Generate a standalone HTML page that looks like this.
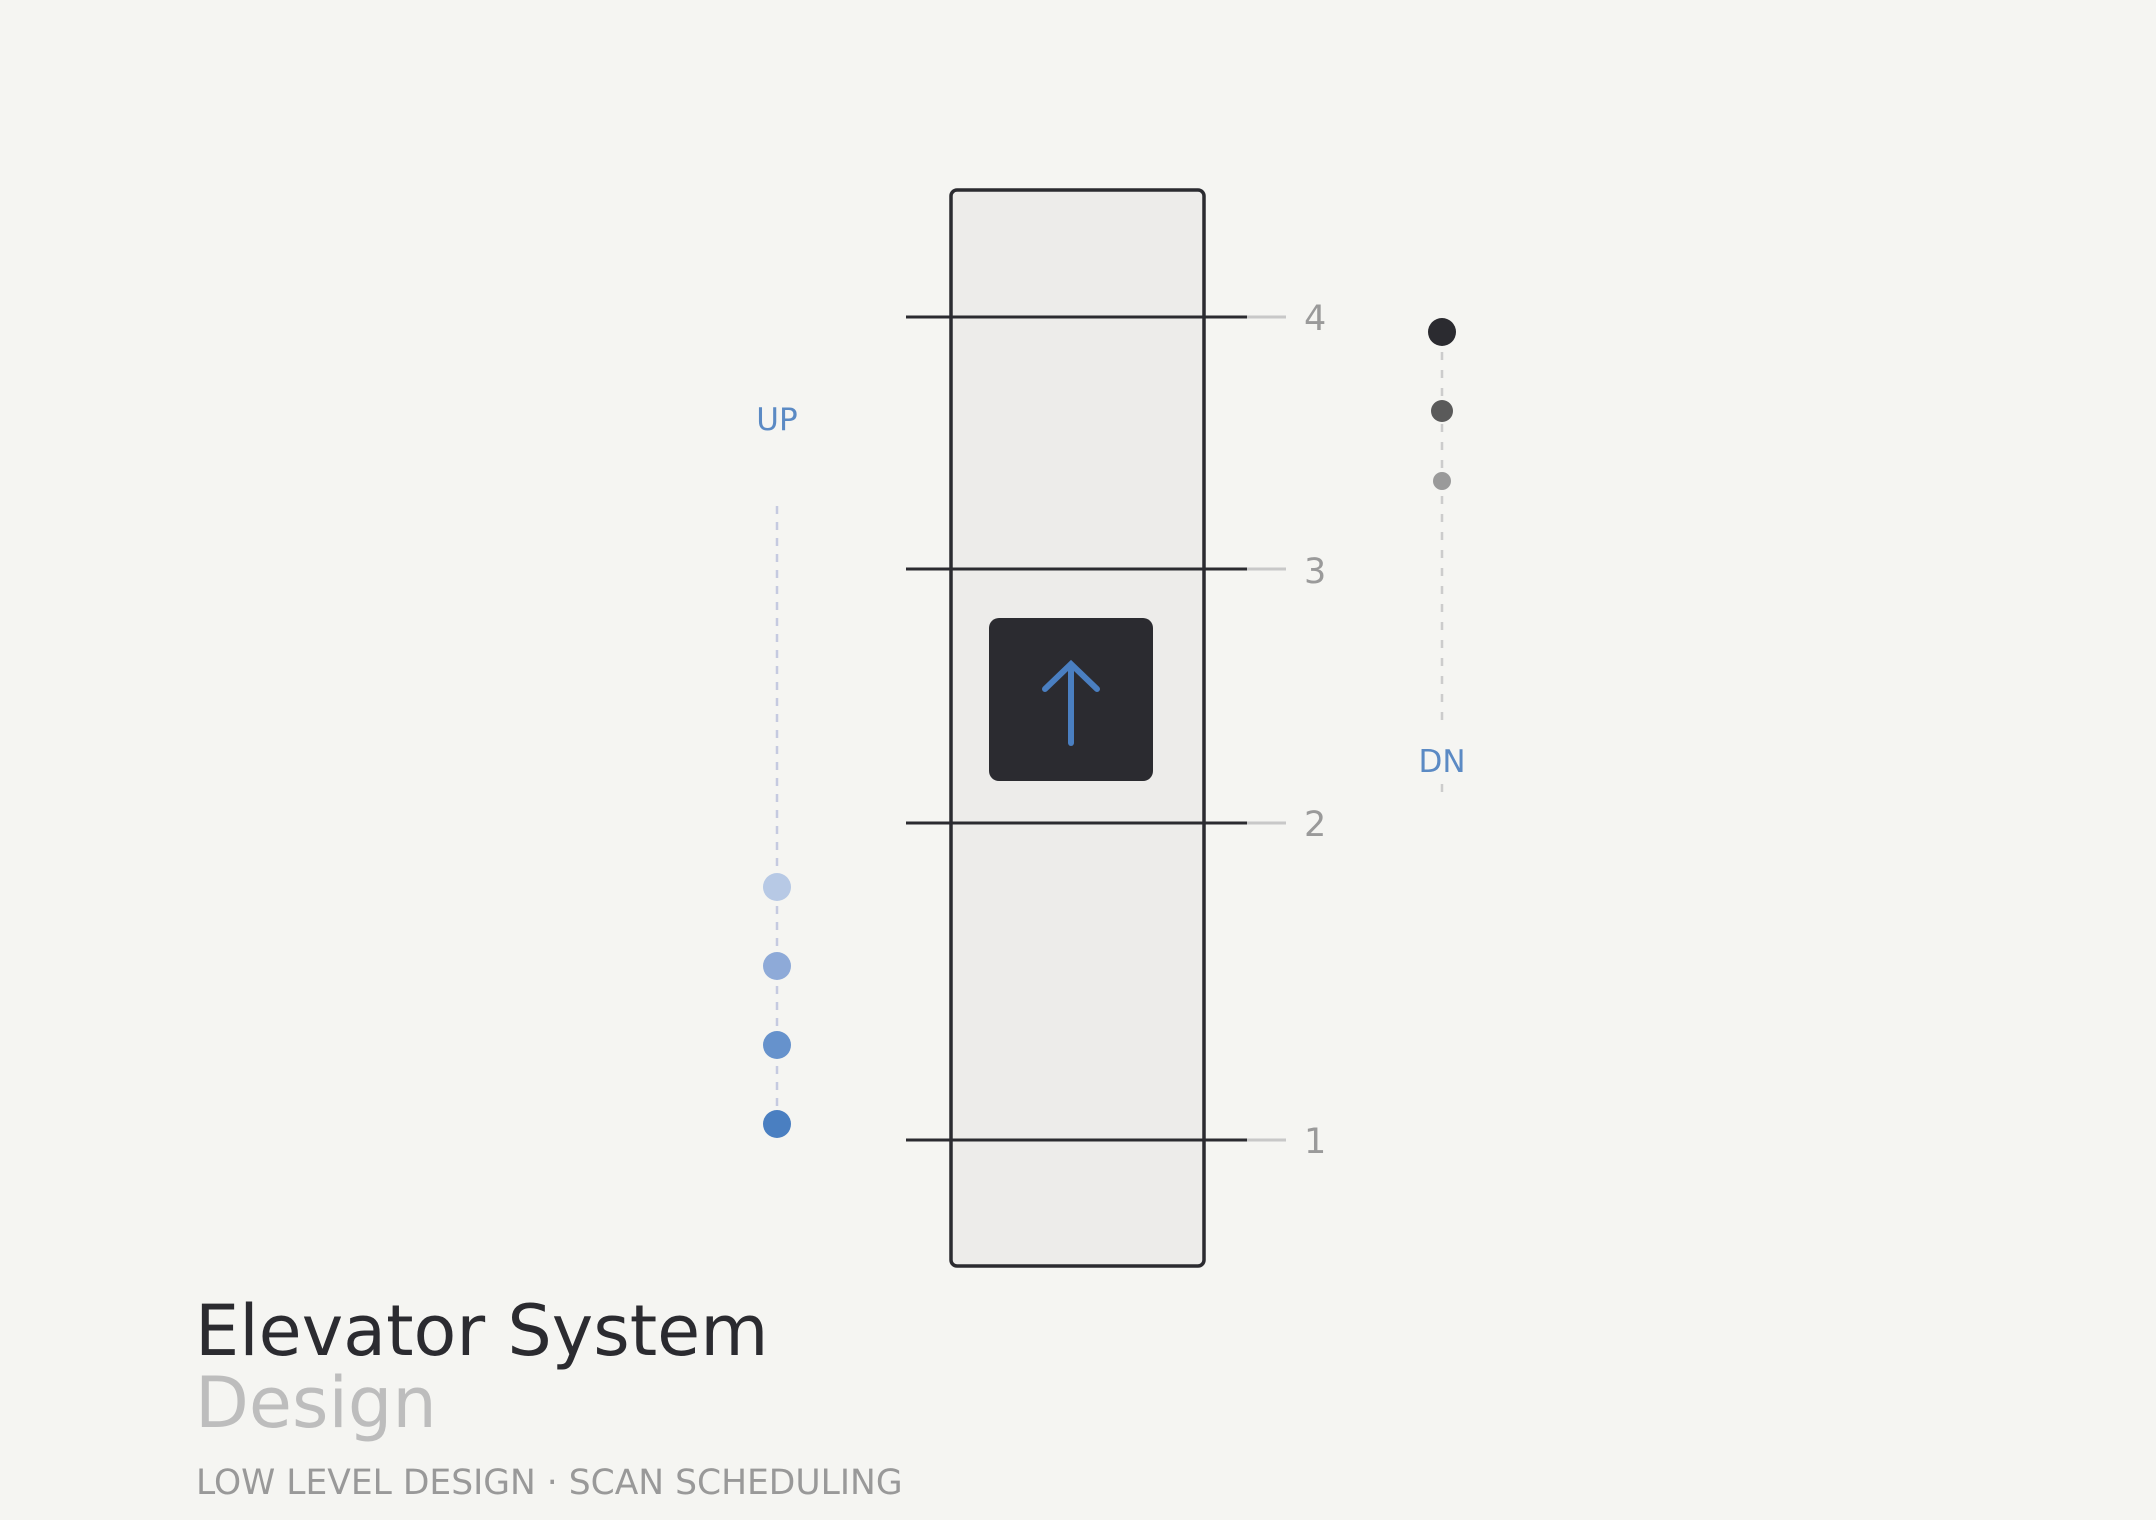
<!DOCTYPE html>
<html><head><style>
html,body{margin:0;padding:0;background:#fff;}
svg{display:block;}
</style></head><body>
<svg width="2156" height="1531" viewBox="0 0 2156 1531" xmlns="http://www.w3.org/2000/svg" font-family="DejaVu Sans, Liberation Sans, sans-serif">
<rect x="0" y="0" width="2156" height="1520" fill="#f5f5f2"/>
<rect x="951" y="190" width="253" height="1076" rx="6" fill="#edecea" stroke="#2b2b30" stroke-width="3.5"/>
<g stroke-width="3">
<line x1="906" y1="317" x2="1247" y2="317" stroke="#2b2b30"/>
<line x1="1247" y1="317" x2="1286" y2="317" stroke="#c8c8c8"/>
<line x1="906" y1="569" x2="1247" y2="569" stroke="#2b2b30"/>
<line x1="1247" y1="569" x2="1286" y2="569" stroke="#c8c8c8"/>
<line x1="906" y1="823" x2="1247" y2="823" stroke="#2b2b30"/>
<line x1="1247" y1="823" x2="1286" y2="823" stroke="#c8c8c8"/>
<line x1="906" y1="1140" x2="1247" y2="1140" stroke="#2b2b30"/>
<line x1="1247" y1="1140" x2="1286" y2="1140" stroke="#c8c8c8"/>
</g>
<g fill="#9a9a9a" font-size="35">
<text x="1304" y="330">4</text>
<text x="1304" y="583">3</text>
<text x="1304" y="836">2</text>
<text x="1304" y="1153">1</text>
</g>
<rect x="989" y="618" width="164" height="163" rx="10" fill="#2b2b30"/>
<g stroke="#4a7fc1" stroke-width="6" stroke-linecap="round" fill="none">
<line x1="1071" y1="665" x2="1071" y2="743"/>
<polyline points="1045,689 1071,664 1097,689"/>
</g>
<text x="777" y="430" font-size="31" fill="#5b8ac4" text-anchor="middle">UP</text>
<line x1="777" y1="506" x2="777" y2="1116" stroke="#c5cae0" stroke-width="2.5" stroke-dasharray="8,8"/>
<circle cx="777" cy="887" r="14" fill="#b7c9e5"/>
<circle cx="777" cy="966" r="14" fill="#8eaad8"/>
<circle cx="777" cy="1045" r="14" fill="#6692cc"/>
<circle cx="777" cy="1124" r="14" fill="#4a7fc1"/>
<line x1="1442" y1="352" x2="1442" y2="730" stroke="#cccccc" stroke-width="2.5" stroke-dasharray="8,10"/>
<line x1="1442" y1="784" x2="1442" y2="800" stroke="#cccccc" stroke-width="2.5" stroke-dasharray="8,10"/>
<circle cx="1442" cy="332" r="14" fill="#2b2b30"/>
<circle cx="1442" cy="411" r="11" fill="#5a5a5a"/>
<circle cx="1442" cy="481" r="9" fill="#9a9a9a"/>
<text x="1442" y="772" font-size="31" fill="#5b8ac4" text-anchor="middle">DN</text>
<text x="195" y="1355" font-size="70" fill="#2b2b30">Elevator System</text>
<text x="195" y="1427" font-size="70" fill="#bdbdbd">Design</text>
<text x="196" y="1494" font-size="34.5" fill="#999999">LOW LEVEL DESIGN · SCAN SCHEDULING</text>
</svg>
</body></html>
